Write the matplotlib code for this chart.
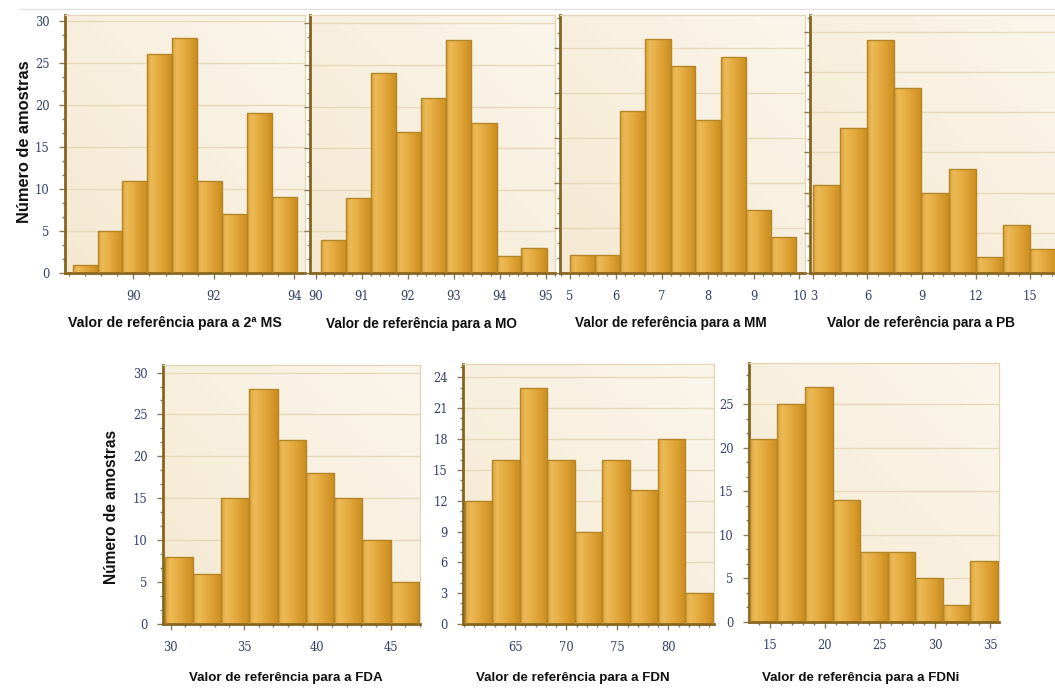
import numpy as np
import matplotlib
matplotlib.use("Agg")
import matplotlib.pyplot as plt
from matplotlib.colors import LinearSegmentedColormap
from matplotlib.ticker import MultipleLocator, AutoMinorLocator

# ---------------- data ----------------
ms_edges = [88.49, 89.11, 89.73, 90.35, 90.97, 91.59, 92.21, 92.83, 93.45, 94.07]
ms_counts = [1, 5, 11, 26, 28, 11, 7, 19, 9]

mo_edges = [90.11, 90.66, 91.20, 91.75, 92.29, 92.84, 93.38, 93.93, 94.47, 95.02]
mo_counts = [4, 9, 24, 17, 21, 28, 18, 2, 3]

mm_edges = [5.00, 5.55, 6.09, 6.64, 7.19, 7.73, 8.28, 8.83, 9.37, 9.92]
mm_counts = [2, 2, 18, 26, 23, 17, 24, 7, 4]

pb_edges = [2.97, 4.47, 5.98, 7.48, 8.99, 10.49, 11.99, 13.50, 15.00, 16.50]
pb_counts = [11, 18, 29, 23, 10, 13, 2, 6, 3]

fda_edges = [29.59, 31.52, 33.44, 35.37, 37.30, 39.22, 41.15, 43.08, 45.00, 46.93]
fda_counts = [8, 6, 15, 28, 22, 18, 15, 10, 5]

fdn_edges = [60.04, 62.74, 65.44, 68.14, 70.84, 73.54, 76.24, 78.94, 81.64, 84.34]
fdn_counts = [12, 16, 23, 16, 9, 16, 13, 18, 3]

fdni_edges = [13.18, 15.68, 18.18, 20.69, 23.19, 25.69, 28.19, 30.69, 33.20, 35.70]
fdni_counts = [21, 25, 27, 14, 8, 8, 5, 2, 7]

ms_xticks = [90, 92, 94]
mo_xticks = [90, 91, 92, 93, 94, 95]
mm_xticks = [5, 6, 7, 8, 9, 10]
pb_xticks = [3, 6, 9, 12, 15]
fda_xticks = [30, 35, 40, 45]
fdn_xticks = [65, 70, 75, 80]
fdni_xticks = [15, 20, 25, 30, 35]

xlabels = ["Valor de referência para a 2ª MS", "Valor de referência para a MO",
           "Valor de referência para a MM", "Valor de referência para a PB",
           "Valor de referência para a FDA", "Valor de referência para a FDN",
           "Valor de referência para a FDNi"]
ylabel = "Número de amostras"

# ---------------- style ----------------
W, H = 1055, 695
fig = plt.figure(figsize=(W / 100, H / 100), dpi=100)
fig.patch.set_facecolor("white")

bar_cmap = LinearSegmentedColormap.from_list(
    "gold", [(0.0, "#dca43e"), (0.18, "#ecba56"), (0.5, "#e4aa40"), (1.0, "#cc8d1e")])
bg_cmap = LinearSegmentedColormap.from_list("cream", ["#f4e8d0", "#fbf6ec"])

tick_color = "#33416a"
tick_family = "DejaVu Serif"
tick_size = 8.3


def px_axes(left, right, top, bottom):
    return fig.add_axes([left / W, 1 - bottom / H, (right - left) / W, (bottom - top) / H])


def draw_panel(ax, edges, counts, xticks, xlim, ylim, ymajor, show_ylabels=True, hide_right=False):
    edges = np.asarray(edges)
    widths = np.diff(edges)
    # background gradient
    yy, xx = np.mgrid[0:1:100j, 0:1:100j]
    bg = (xx * 0.5 + yy * 0.5)
    ax.imshow(bg, extent=[0, 1, 0, 1], transform=ax.transAxes, aspect="auto",
              cmap=bg_cmap, origin="lower", zorder=0, interpolation="bilinear")
    bars = ax.bar(edges[:-1], counts, width=widths, align="edge",
                  color="#e2aa40", edgecolor="none", zorder=2)
    grad = np.linspace(0, 1, 64).reshape(1, -1)
    for b in bars:
        x0, w, h = b.get_x(), b.get_width(), b.get_height()
        im = ax.imshow(grad, extent=[x0, x0 + w, 0, h], aspect="auto", cmap=bar_cmap,
                       zorder=2.2, interpolation="bilinear")
        im.set_clip_path(b)
    ax.bar(edges[:-1], counts, width=widths, align="edge", fill=False,
           edgecolor="#b38527", linewidth=1.0, zorder=3)

    ax.set_xlim(*xlim)
    ax.set_ylim(*ylim)
    ax.set_xticks(xticks)
    ax.yaxis.set_major_locator(MultipleLocator(ymajor))
    ax.xaxis.set_minor_locator(AutoMinorLocator(5))
    ax.yaxis.set_minor_locator(AutoMinorLocator(3))
    ax.set_axisbelow(True)
    ax.yaxis.grid(True, which="major", color="#e6d9bc", linewidth=1.0)
    ax.tick_params(axis="both", which="major", direction="out", length=4, width=1,
                   color="#8a7a5c")
    ax.tick_params(axis="x", which="major", pad=8)
    ax.tick_params(axis="y", which="major", pad=7)
    ax.tick_params(axis="both", which="minor", direction="out", length=2.2, width=1,
                   color="#8a7a5c")
    for lab in ax.get_xticklabels() + ax.get_yticklabels():
        lab.set_fontfamily(tick_family)
        lab.set_fontsize(tick_size)
        lab.set_color(tick_color)
    if not show_ylabels:
        ax.tick_params(axis="y", which="both", labelleft=False)
    for s in ("left", "bottom"):
        ax.spines[s].set_color("#86651f")
        ax.spines[s].set_linewidth(2.0)
    for s in ("top", "right"):
        ax.spines[s].set_color("#e4d5b3")
        ax.spines[s].set_linewidth(0.9)
    if hide_right:
        ax.spines["right"].set_visible(False)


# top row
ax1 = px_axes(65, 305, 15, 273)
draw_panel(ax1, ms_edges, ms_counts, ms_xticks, (88.3, 94.27), (0, 30.7), 5)
ax2 = px_axes(310, 555, 15, 273)
draw_panel(ax2, mo_edges, mo_counts, mo_xticks, (89.88, 95.2), (0, 31.0), 5, show_ylabels=False)
ax3 = px_axes(560, 805, 15, 273)
draw_panel(ax3, mm_edges, mm_counts, mm_xticks, (4.78, 10.12), (0, 28.7), 5, show_ylabels=False)
ax4 = px_axes(810, 1055, 15, 273)
draw_panel(ax4, pb_edges, pb_counts, pb_xticks, (2.82, 16.38), (0, 32.1), 5, show_ylabels=False,
           hide_right=True)

# bottom row
ax5 = px_axes(163, 420, 365, 624)
draw_panel(ax5, fda_edges, fda_counts, fda_xticks, (29.48, 47.0), (0, 30.9), 5)
ax6 = px_axes(463, 714, 364, 624)
draw_panel(ax6, fdn_edges, fdn_counts, fdn_xticks, (59.88, 84.47), (0, 25.3), 3)
ax7 = px_axes(749, 999, 363, 622)
draw_panel(ax7, fdni_edges, fdni_counts, fdni_xticks, (13.09, 35.82), (0, 29.7), 5)

# axis titles
lab_kw = dict(family="Liberation Sans", weight="bold", color="#111111")
xl_pos = [(175, 323), (421, 324), (671, 323), (921, 323), (286, 678), (573, 678), (861, 678)]
xl_size = [10.2, 9.8, 9.8, 9.8, 9.6, 9.6, 9.6]
for (x, y), t, fs in zip(xl_pos, xlabels, xl_size):
    fig.text(x / W, 1 - y / H, t, ha="center", va="center", fontsize=fs, **lab_kw)
fig.text(25 / W, 1 - 142 / H, ylabel, rotation=90, ha="center", va="center", fontsize=11.8, **lab_kw)
fig.text(112 / W, 1 - 507 / H, ylabel, rotation=90, ha="center", va="center", fontsize=11.2, **lab_kw)

# thin page rule at top
fig.add_artist(plt.Line2D([20 / W, 1], [1 - 9 / H, 1 - 9 / H], color="#e2e2e2", lw=1))

fig.savefig("out.png", dpi=100, facecolor="white")
